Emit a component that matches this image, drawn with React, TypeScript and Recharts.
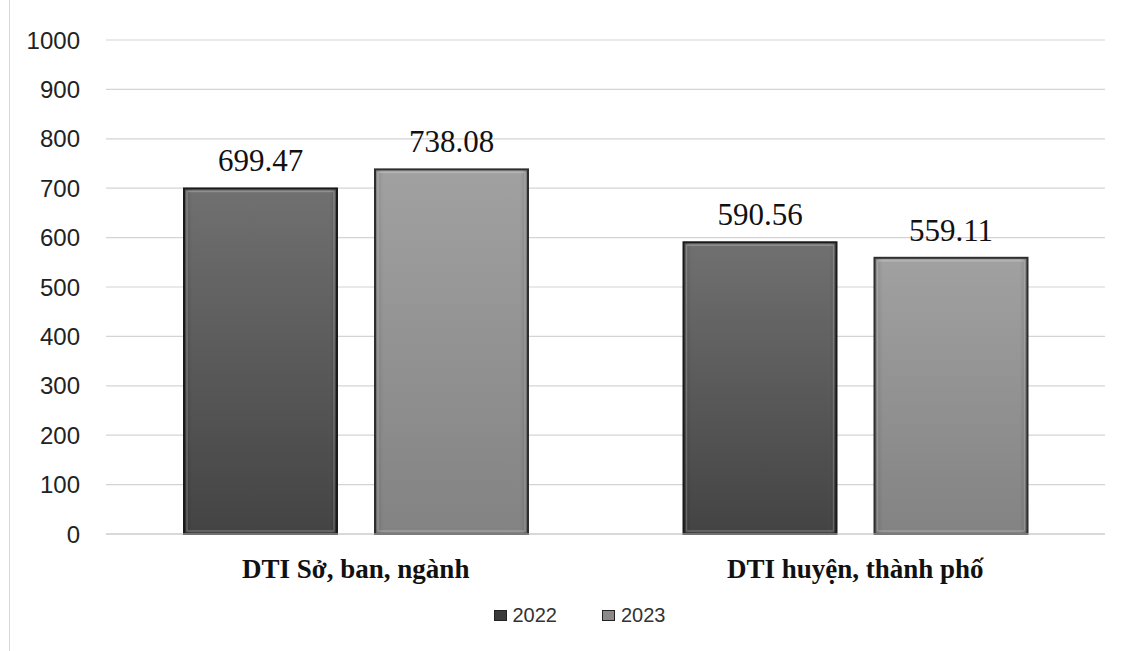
import React from "react";
import { BarChart, Bar, XAxis, YAxis, CartesianGrid, Legend, LabelList } from "recharts";

const categories = ["DTI Sở, ban, ngành", "DTI huyện, thành phố"];
const values2022 = [699.47, 590.56];
const values2023 = [738.08, 559.11];
const yTicks = [0, 100, 200, 300, 400, 500, 600, 700, 800, 900, 1000];
const seriesNames = ["2022", "2023"];

const data = categories.map((c, i) => ({ name: c, y2022: values2022[i], y2023: values2023[i] }));

const makeShape = (id: string, top: string, bottom: string, stroke: string) => (props: any) => {
  const { x, y, width, height } = props;
  if (!width || !height) return null;
  return (
    <g>
      <defs>
        <linearGradient id={id} x1="0" y1="0" x2="0" y2="1">
          <stop offset="0%" stopColor={top} />
          <stop offset="100%" stopColor={bottom} />
        </linearGradient>
        <linearGradient id={id + "h"} x1="0" y1="0" x2="1" y2="0">
          <stop offset="0%" stopColor="#000" stopOpacity={0.18} />
          <stop offset="6%" stopColor="#fff" stopOpacity={0.08} />
          <stop offset="94%" stopColor="#fff" stopOpacity={0.08} />
          <stop offset="100%" stopColor="#000" stopOpacity={0.25} />
        </linearGradient>
      </defs>
      <rect x={x} y={y} width={width} height={height} fill={`url(#${id})`} />
      <rect x={x} y={y} width={width} height={height} fill={`url(#${id}h)`} />
      <rect x={x + 3} y={y + 3} width={width - 6} height={height - 6} fill="none" stroke="#ffffff" strokeOpacity={0.22} strokeWidth={1.5} />
      <rect x={x} y={y} width={width} height={height} fill="none" stroke={stroke} strokeWidth={2} />
    </g>
  );
};

const shape2022 = makeShape("g2022", "#646464", "#333333", "#1a1a1a");
const shape2023 = makeShape("g2023", "#999999", "#787878", "#2e2e2e");

const legendColors = ["#3a3a3a", "#8a8a8a"];

const LegendContent = () => (
  <div
    style={{
      display: "flex",
      justifyContent: "center",
      alignItems: "center",
      paddingTop: 4,
      paddingLeft: 36,
      fontFamily: "'Liberation Sans', Arial, sans-serif",
      fontSize: 20,
      color: "#333",
      lineHeight: "20px",
    }}
  >
    {seriesNames.map((s, i) => (
      <div key={s} style={{ display: "flex", alignItems: "center", marginRight: i === 0 ? 45 : 0 }}>
        <span
          style={{
            display: "inline-block",
            width: 11,
            height: 9,
            background: legendColors[i],
            border: "1px solid #222",
            marginRight: 6,
          }}
        />
        <span>{s}</span>
      </div>
    ))}
  </div>
);

export default function App() {
  return (
    <div style={{ position: "absolute", left: 0, top: 0, width: 1123, height: 651, background: "#fff" }}>
      <div style={{ position: "absolute", left: 9, top: 0, width: 1, height: 651, background: "#d8d8d8" }} />
      <BarChart
        width={1123}
        height={651}
        data={data}
        margin={{ top: 40, right: 18, left: 0, bottom: 0 }}
        barGap={38}
      >
        <CartesianGrid vertical={false} stroke="#d4d4d4" strokeWidth={1.2} />
        <XAxis
          dataKey="name"
          height={67}
          axisLine={{ stroke: "#c8c8c8" }}
          tickLine={false}
          tickMargin={19}
          tick={{ fontFamily: "'Liberation Serif', 'Times New Roman', serif", fontSize: 27, fontWeight: 700, fill: "#111" }}
        />
        <YAxis
          width={106}
          domain={[0, 1000]}
          ticks={yTicks}
          axisLine={false}
          tickLine={false}
          tickMargin={20}
          tick={{ fontFamily: "'Liberation Sans', Arial, sans-serif", fontSize: 24, fill: "#222" }}
        />
        <Legend verticalAlign="bottom" height={50} wrapperStyle={{ left: 0, width: 1123, height: 50 }} content={LegendContent} />
        <Bar dataKey="y2022" name="2022" barSize={153} shape={shape2022} isAnimationActive={false}>
          <LabelList
            dataKey="y2022"
            position="top"
            offset={17}
            formatter={(v: any) => Number(v).toFixed(2)}
            style={{ fontFamily: "'Liberation Serif', 'Times New Roman', serif", fontSize: 31, fill: "#111" }}
          />
        </Bar>
        <Bar dataKey="y2023" name="2023" barSize={153} shape={shape2023} isAnimationActive={false}>
          <LabelList
            dataKey="y2023"
            position="top"
            offset={17}
            formatter={(v: any) => Number(v).toFixed(2)}
            style={{ fontFamily: "'Liberation Serif', 'Times New Roman', serif", fontSize: 31, fill: "#111" }}
          />
        </Bar>
      </BarChart>
    </div>
  );
}
